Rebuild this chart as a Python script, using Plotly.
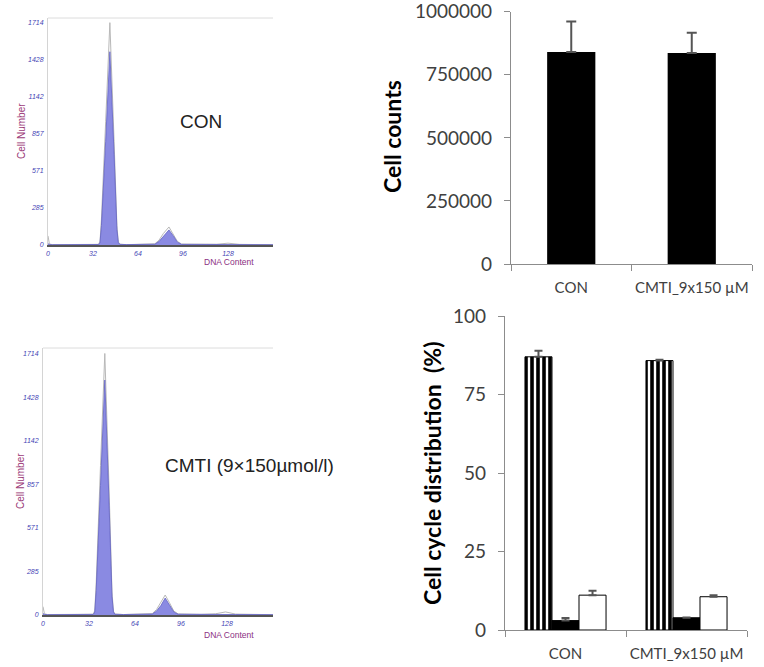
import plotly.graph_objects as go

W, H = 764, 667

# ---------------- Data ----------------
# Flow-cytometry histograms (DNA content vs cell number)
con_dna = [0, 1, 3, 34, 36, 37, 38, 41, 44, 47, 49, 50, 51, 56, 72, 76, 79, 82, 86, 89, 92, 95, 110, 120, 128, 136, 160]
con_fit = [10, 4, 2, 2, 4, 20, 150, 800, 1490, 700, 120, 20, 5, 3, 4, 6, 28, 68, 116, 72, 22, 5, 3, 3, 3, 3, 2]
con_raw = [70, 8, 3, 2, 5, 30, 200, 950, 1714, 800, 150, 25, 6, 3, 5, 9, 38, 88, 139, 88, 28, 7, 4, 6, 14, 5, 2]

cmti_dna = [0, 1, 3, 33, 35, 36, 37, 40, 43, 46, 48, 49, 50, 56, 72, 76, 79, 82, 85, 88, 91, 94, 110, 120, 127, 134, 160]
cmti_fit = [10, 4, 2, 2, 4, 20, 160, 850, 1540, 720, 120, 20, 5, 3, 4, 6, 26, 62, 111, 66, 20, 5, 3, 3, 3, 3, 2]
cmti_raw = [55, 8, 3, 2, 5, 30, 210, 980, 1714, 820, 150, 25, 6, 3, 5, 9, 36, 80, 131, 80, 26, 7, 4, 8, 20, 6, 2]

hist_xticks = [0, 32, 64, 96, 128]
hist_yticks = [0, 285, 571, 857, 1142, 1428, 1714]

# Cell counts
groups = ["CON", "CMTI_9x150 \u00b5M"]
counts = [840000, 836000]
counts_err = [121000, 81000]
count_ticks = [0, 250000, 500000, 750000, 1000000]

# Cell cycle distribution (%)
g1 = [87.0, 85.8]
g1_err = [1.9, 0.3]
s_phase = [3.0, 3.9]
s_err = [0.8, 0.1]
g2m = [11.1, 10.6]
g2m_err = [1.4, 0.5]
pct_ticks = [0, 25, 50, 75, 100]


def px(x):
    return x / W


def py(y):
    return 1 - y / H


fig = go.Figure()

HIST_FILL = "rgba(128,128,224,0.92)"
HIST_EDGE = "#6262c4"
RAW = "#b8b8b8"

# Histogram 1 (CON)
fig.add_trace(go.Scatter(x=con_dna, y=con_raw, mode="lines",
                         line=dict(color=RAW, width=1), xaxis="x", yaxis="y", hoverinfo="skip"))
fig.add_trace(go.Scatter(x=con_dna, y=con_fit, mode="lines", fill="tozeroy",
                         fillcolor=HIST_FILL, line=dict(color=HIST_EDGE, width=0.8),
                         xaxis="x", yaxis="y", hoverinfo="skip"))
# Histogram 2 (CMTI)
fig.add_trace(go.Scatter(x=cmti_dna, y=cmti_raw, mode="lines",
                         line=dict(color=RAW, width=1), xaxis="x2", yaxis="y2", hoverinfo="skip"))
fig.add_trace(go.Scatter(x=cmti_dna, y=cmti_fit, mode="lines", fill="tozeroy",
                         fillcolor=HIST_FILL, line=dict(color=HIST_EDGE, width=0.8),
                         xaxis="x2", yaxis="y2", hoverinfo="skip"))

# Cell counts bar
ERR = "#555555"
fig.add_trace(go.Bar(x=groups, y=counts, width=0.4, marker=dict(color="black", line=dict(width=0)),
                     error_y=dict(type="data", array=counts_err, arrayminus=[0, 0], symmetric=False,
                                  color=ERR, thickness=2, width=5),
                     xaxis="x3", yaxis="y3", name="Cell counts"))

# Cell cycle bars
fig.add_trace(go.Bar(x=groups, y=g1, name="G0/G1",
                     marker=dict(color="white", line=dict(color="black", width=1),
                                 pattern=dict(shape="|", fgcolor="black", bgcolor="white",
                                              size=6, solidity=0.6, fillmode="replace")),
                     error_y=dict(type="data", array=g1_err, arrayminus=[0, 0], symmetric=False,
                                  color=ERR, thickness=2, width=4),
                     xaxis="x4", yaxis="y4"))
fig.add_trace(go.Bar(x=groups, y=s_phase, name="S",
                     marker=dict(color="black", line=dict(color="black", width=1)),
                     error_y=dict(type="data", array=s_err, arrayminus=[0, 0], symmetric=False,
                                  color=ERR, thickness=2, width=4),
                     xaxis="x4", yaxis="y4"))
fig.add_trace(go.Bar(x=groups, y=g2m, name="G2/M",
                     marker=dict(color="white", line=dict(color="black", width=1)),
                     error_y=dict(type="data", array=g2m_err, arrayminus=[0, 0], symmetric=False,
                                  color=ERR, thickness=2, width=4),
                     xaxis="x4", yaxis="y4"))

hist_tickfont = dict(family="Liberation Sans", size=7, color="#4545b5", style="italic")

hist_x_common = dict(range=[0, 160], tickvals=hist_xticks, tickfont=hist_tickfont,
                     showline=True, linecolor="#555555", linewidth=1.5, showgrid=False,
                     zeroline=False, ticks="", ticklabelstandoff=1, fixedrange=True,
                     automargin=False, tickangle=0, ticklabeloverflow="allow")
hist_y_common = dict(range=[0, 1750], tickvals=hist_yticks, tickfont=hist_tickfont,
                     showline=True, linecolor="#d4d4d4", linewidth=1, showgrid=False,
                     zeroline=False, ticks="", ticklabelstandoff=2, fixedrange=True,
                     automargin=False, ticklabeloverflow="allow")

bar_tickfont = dict(family="Lato", size=19, color="#404040")
cat_tickfont = dict(family="Lato", size=15, color="#404040")
AX = "#8c8c8c"

common_bar_x = dict(type="category", tickangle=0, showline=True, linecolor=AX, linewidth=1.2,
                    ticks="outside", tickson="boundaries", ticklen=6, tickcolor=AX,
                    tickfont=cat_tickfont, ticklabelstandoff=10, fixedrange=True,
                    automargin=False, ticklabeloverflow="allow")
common_bar_y = dict(showline=True, linecolor=AX, linewidth=1.2, ticks="outside", ticklen=6,
                    tickcolor=AX, showgrid=False, zeroline=False, tickfont=bar_tickfont,
                    ticklabelstandoff=8, fixedrange=True, automargin=False,
                    ticklabeloverflow="allow")

fig.update_layout(
    width=W, height=H, margin=dict(l=0, r=0, t=0, b=0, pad=0, autoexpand=False),
    paper_bgcolor="white", plot_bgcolor="white", showlegend=False,
    barmode="group", bargap=0.33, bargroupgap=0,
    xaxis=dict(domain=[px(48), px(273)], anchor="y", **hist_x_common),
    yaxis=dict(domain=[py(245), py(18)], anchor="x", **hist_y_common),
    xaxis2=dict(domain=[px(43), px(273)], anchor="y2", **hist_x_common),
    yaxis2=dict(domain=[py(615), py(348)], anchor="x2", **hist_y_common),
    xaxis3=dict(domain=[px(511), px(752)], anchor="y3", **common_bar_x),
    yaxis3=dict(domain=[py(264), py(11.7)], anchor="x3", range=[0, 1000000], tickvals=count_ticks,
                tickformat="d", **common_bar_y),
    xaxis4=dict(domain=[px(505), px(747)], anchor="y4", **common_bar_x),
    yaxis4=dict(domain=[py(630), py(316)], anchor="x4", range=[0, 100], tickvals=pct_ticks,
                **common_bar_y),
)

# Top frame lines of the histograms
for (x0, x1, y) in [(48, 273, 18), (43, 273, 348)]:
    fig.add_shape(type="line", xref="paper", yref="paper", x0=px(x0), x1=px(x1), y0=py(y), y1=py(y),
                  line=dict(color="#dcdcdc", width=1))

annots = [
    dict(text="Cell Number", x=px(22), y=py(131), textangle=-90,
         font=dict(family="Liberation Sans", size=10, color="#9b3a78")),
    dict(text="Cell Number", x=px(20), y=py(481), textangle=-90,
         font=dict(family="Liberation Sans", size=10, color="#9b3a78")),
    dict(text="DNA Content", x=px(229), y=py(262),
         font=dict(family="Liberation Sans", size=8.5, color="#8b2f82")),
    dict(text="DNA Content", x=px(229), y=py(635),
         font=dict(family="Liberation Sans", size=8.5, color="#8b2f82")),
    dict(text="CON", x=px(201), y=py(121),
         font=dict(family="Liberation Sans", size=19, color="#222222")),
    dict(text="CMTI (9\u00d7150\u00b5mol/l)", x=px(249), y=py(466),
         font=dict(family="Liberation Sans", size=19, color="#222222")),
    dict(text="<b>Cell counts</b>", x=px(392), y=py(137), textangle=-90,
         font=dict(family="Lato", size=23, color="black")),
    dict(text="<b>Cell cycle distribution  (%)</b>", x=px(432), y=py(474), textangle=-90,
         font=dict(family="Lato", size=23, color="black")),
]
for a in annots:
    fig.add_annotation(xref="paper", yref="paper", showarrow=False,
                       xanchor="center", yanchor="middle", **a)

fig.write_html("out.html", config={"displayModeBar": False},
               post_script="document.body.style.margin='0';document.body.style.overflow='hidden';")
